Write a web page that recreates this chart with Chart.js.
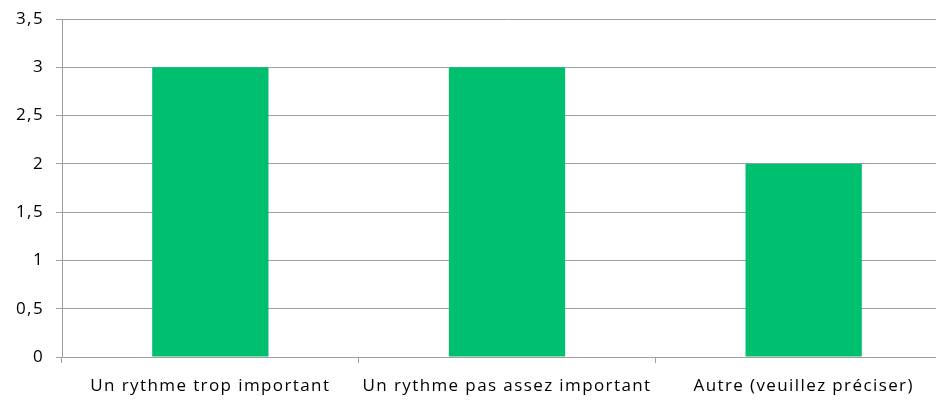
<!DOCTYPE html>
<html lang="fr">
<head>
    <meta charset="UTF-8">
    <title>Rythme</title>
    <script src="https://cdn.jsdelivr.net/npm/chart.js@4.4.0/dist/chart.umd.min.js"></script>
    <style>
        html, body {margin: 0; padding: 0; overflow: hidden; background: #fff;}
        #wrap {width: 952px; height: 401px;}
    </style>
</head>
<body>
    <div id="wrap"><canvas id="rythmeChart" width="952" height="401"></canvas></div>

    <script>
        const categories = ["Un rythme trop important", "Un rythme pas assez important", "Autre (veuillez préciser)"];
        const values = [3, 3, 2];
        const yTicks = [0, 0.5, 1, 1.5, 2, 2.5, 3, 3.5];

        const grey = "#a0a0a0";
        const font = {family: "'Open Sans', sans-serif", size: 17};

        // wider letter spacing, close to the original's text look
        const spacing = {
            id: "spacing",
            beforeDraw(chart) { chart.ctx.letterSpacing = "1.4px"; }
        };

        const rythmeChart = new Chart(document.getElementById("rythmeChart"), {
            type: "bar",
            data: {
                labels: categories,
                datasets: [
                    {data: values, backgroundColor: "#00bf6f", barPercentage: 1, categoryPercentage: 0.392}
                ]
            },
            options: {
                responsive: false,
                animation: false,
                layout: {padding: {top: 19, right: 0, bottom: 0, left: 0}},
                plugins: {legend: {display: false}, tooltip: {enabled: false}},
                scales: {
                    x: {
                        grid: {offset: true, drawOnChartArea: false, color: grey, tickLength: 6},
                        border: {color: grey, width: 1},
                        ticks: {color: "#000", font: font, padding: 13, maxRotation: 0},
                        afterFit: s => { s.height = 44; }
                    },
                    y: {
                        min: 0,
                        max: 3.5,
                        afterBuildTicks: s => { s.ticks = yTicks.map(v => ({value: v})); },
                        grid: {color: grey, tickLength: 6},
                        border: {color: grey, width: 1},
                        ticks: {
                            color: "#000",
                            font: font,
                            padding: 12,
                            callback: v => String(v).replace(".", ",")
                        },
                        afterFit: s => { s.width = 62; s.paddingTop = 0; s.paddingBottom = 0; }
                    }
                }
            },
            plugins: [spacing]
        });
    </script>
</body>
</html>
